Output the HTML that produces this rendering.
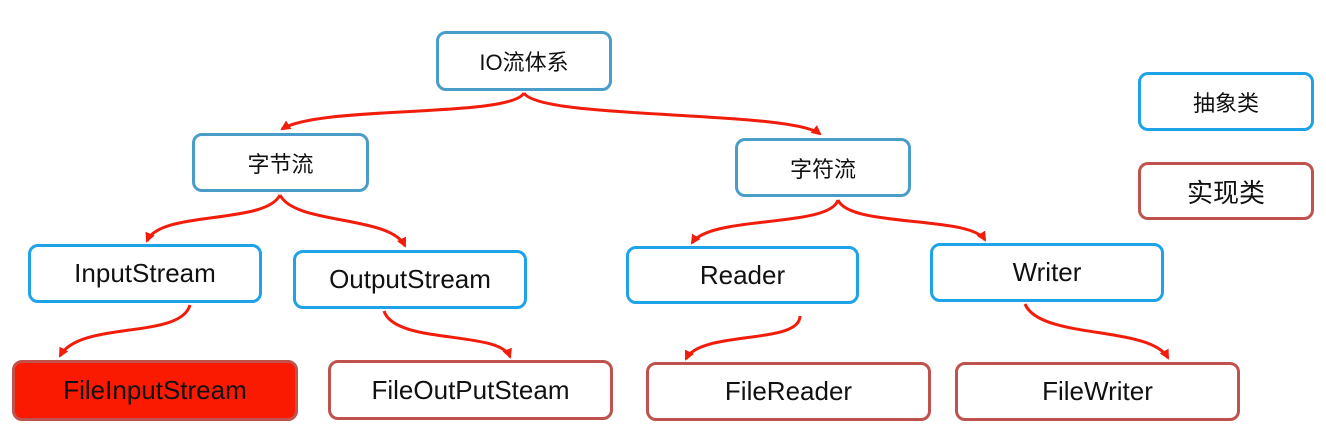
<!DOCTYPE html>
<html><head><meta charset="utf-8"><style>
body{margin:0;width:1326px;height:431px;background:#fff;position:relative;overflow:hidden;font-family:"Liberation Sans","Noto Sans CJK SC",sans-serif}
.b{position:absolute;box-sizing:border-box;border:3px solid #4a9dc9;border-radius:10px;background:#fff;display:flex;align-items:center;justify-content:center;color:#111}
.c{font-size:22px}
.e{font-size:26px;border-color:#1ea3e8}
.r{border-color:#c0524d;font-size:26px}
svg{position:absolute;left:0;top:0}
</style></head><body>
<svg width="1326" height="431"><defs><marker id="a" markerUnits="userSpaceOnUse" markerWidth="12" markerHeight="12" refX="8" refY="6" orient="auto"><path d="M0,1 L10,6 L0,11 z" fill="#f21c0a"/></marker></defs>
<g fill="none" stroke="#f21c0a" stroke-width="3" marker-end="url(#a)">
<path d="M524,93 C510,118 320,105 282,129"/>
<path d="M524,93 C540,120 790,110 820,134"/>
<path d="M280,195 C265,225 160,210 147,241"/>
<path d="M280,195 C295,225 390,215 405,246"/>
<path d="M838,200 C830,228 710,215 692,243"/>
<path d="M838,200 C850,228 970,215 985,240"/>
<path d="M190,305 C180,340 80,320 60,356"/>
<path d="M384,311 C395,345 500,330 510,357"/>
<path d="M800,316 C800,345 700,330 686,359"/>
<path d="M1025,304 C1040,340 1150,325 1168,358"/>
</g></svg>
<div class="b c" style="left:436px;top:31px;width:176px;height:60px">IO流体系</div>
<div class="b c" style="left:192px;top:133px;width:177px;height:59px">字节流</div>
<div class="b c" style="left:735px;top:138px;width:176px;height:59px">字符流</div>
<div class="b c" style="left:1138px;top:72px;width:176px;height:59px;border-color:#1ea3e8">抽象类</div>
<div class="b r" style="left:1138px;top:162px;width:176px;height:58px">实现类</div>
<div class="b e" style="left:28px;top:244px;width:234px;height:59px">InputStream</div>
<div class="b e" style="left:293px;top:250px;width:234px;height:59px">OutputStream</div>
<div class="b e" style="left:626px;top:246px;width:233px;height:58px">Reader</div>
<div class="b e" style="left:930px;top:243px;width:234px;height:59px">Writer</div>
<div class="b r" style="left:12px;top:360px;width:286px;height:61px;background:#fa1a02">FileInputStream</div>
<div class="b r" style="left:328px;top:360px;width:285px;height:60px">FileOutPutSteam</div>
<div class="b r" style="left:646px;top:362px;width:285px;height:59px">FileReader</div>
<div class="b r" style="left:955px;top:362px;width:285px;height:59px">FileWriter</div>
</body></html>
